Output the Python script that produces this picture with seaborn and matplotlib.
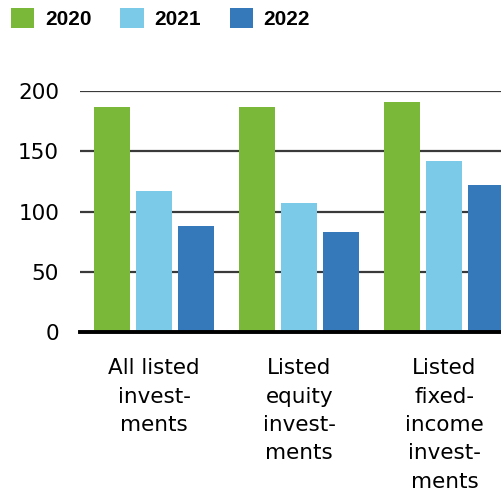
import numpy as np
import matplotlib.pyplot as plt
import pandas as pd
import seaborn as sns

# ---- data ----
categories = ['All listed\ninvest-\nments', 'Listed\nequity\ninvest-\nments',
              'Listed\nfixed-\nincome\ninvest-\nments']
years = ['2020', '2021', '2022']
v2020 = [187, 187, 191]
v2021 = [117, 107, 142]
v2022 = [88, 83, 122]
colors = ['#7AB83A', '#7BCBE8', '#3579BA']

df = pd.DataFrame({
    'category': categories * 3,
    'year': np.repeat(years, 3),
    'value': v2020 + v2021 + v2022,
})

sns.set_style('white')
plt.rcParams['font.family'] = ['DejaVu Sans']
plt.rcParams['text.color'] = 'black'
plt.rcParams['xtick.color'] = 'black'
plt.rcParams['ytick.color'] = 'black'

fig = plt.figure(figsize=(5.01, 4.92), dpi=100)
ax = fig.add_axes([80 / 501, 1 - 332 / 492, 1 - 80 / 501, (332 - 91) / 492])

sns.barplot(data=df, x='category', y='value', hue='year', palette=colors,
            width=0.87, gap=0.14, saturation=1, linewidth=0, edgecolor='none',
            ax=ax, zorder=3)

# ---- axes styling ----
ax.set_ylim(0, 200)
ax.set_xlim(-0.51, 2.39)
ax.set_yticks([0, 50, 100, 150, 200])
ax.yaxis.grid(True, color='#3a3a3a', linewidth=1.6, zorder=0)
ax.set_axisbelow(True)
for s in ['top', 'right', 'left']:
    ax.spines[s].set_visible(False)
ax.spines['bottom'].set_color('black')
ax.spines['bottom'].set_linewidth(2.8)
ax.spines['bottom'].set_zorder(5)
ax.tick_params(axis='y', length=0, pad=15, labelsize=15.5)
ax.tick_params(axis='x', length=0, pad=19, labelsize=15.5)
for t in ax.get_xticklabels():
    t.set_linespacing(1.52)
    t.set_verticalalignment('top')
ax.set_xlabel('')
ax.set_ylabel('')

# ---- legend at the top ----
handles, labels = ax.get_legend_handles_labels()
ax.legend(handles, labels, loc='upper left', bbox_to_anchor=(11 / 501, 1 - 8 / 492),
          bbox_transform=fig.transFigure, ncol=3, frameon=False,
          prop={'family': 'Liberation Sans', 'weight': 'bold', 'size': 15},
          handlelength=1.12, handleheight=1.12,
          handletextpad=0.5, columnspacing=1.4, borderpad=0, borderaxespad=0)

fig.savefig('out.png', dpi=100)
